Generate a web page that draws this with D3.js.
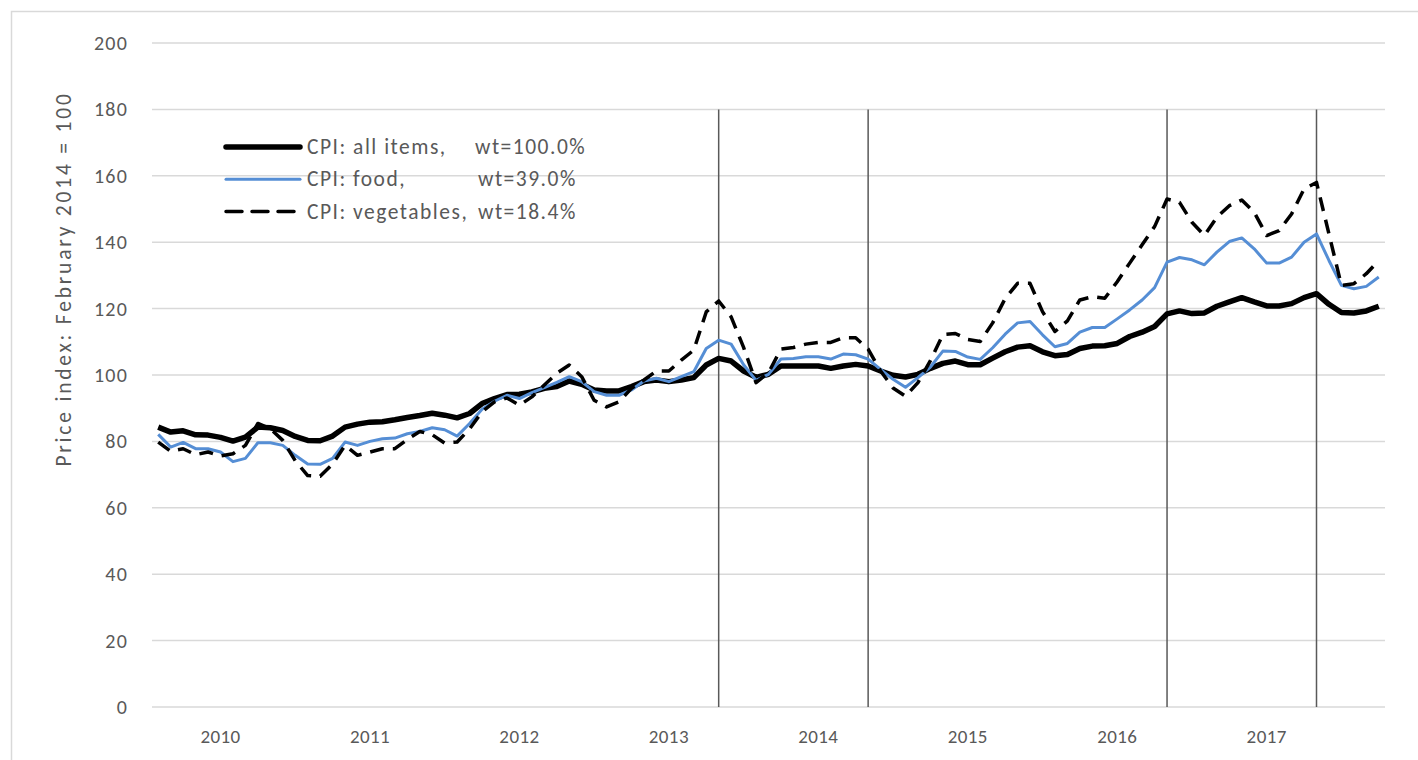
<!DOCTYPE html>
<html>
<head>
<meta charset="utf-8">
<script src="https://cdn.jsdelivr.net/npm/d3@7"></script>
<style>
  body { margin: 0; background: #fff; }
  svg { display: block; font-family: Carlito, Lato, sans-serif; }
</style>
</head>
<body>
<svg id="chart"></svg>
<script>
// monthly, Feb 2010 .. Apr 2018
const startMonth = new Date(2010, 1, 1);
const allItems = [84.3, 82.8, 83.2, 82, 81.9, 81.2, 80.1, 81.3, 84.3, 84.1, 83.3, 81.5, 80.3, 80.2, 81.6, 84.3, 85.2, 85.8, 85.9, 86.5,
    87.2, 87.8, 88.5, 87.9, 87.1, 88.4, 91.4, 92.9, 94.1, 94.2, 94.9, 96, 96.5, 98.2, 97.2, 95.5, 95.2, 95.2, 96.5, 98,
    98.5, 98, 98.5, 99.2, 103, 105, 104.2, 101.2, 99.3, 100.2, 102.7, 102.7, 102.7, 102.7, 102, 102.7, 103.2, 102.7, 101.2, 99.9,
    99.4, 100.2, 102, 103.5, 104.2, 103.1, 103.1, 105.1, 107, 108.4, 108.8, 107, 105.8, 106.2, 108, 108.7, 108.8, 109.5, 111.6, 112.9,
    114.6, 118.4, 119.3, 118.5, 118.7, 120.7, 122, 123.3, 122, 120.8, 120.8, 121.5, 123.3, 124.5, 121.3, 118.8, 118.7, 119.3, 120.7];
const food = [82.1, 78.3, 79.7, 77.8, 77.8, 76.8, 73.9, 74.9, 79.6, 79.6, 78.8, 75.8, 73.2, 73.1, 74.9, 79.8, 78.8, 80, 80.8, 81,
    82.3, 83, 84.1, 83.5, 81.6, 85.4, 89.7, 92.1, 93.9, 92.9, 94.7, 96.2, 97.8, 99.5, 98, 95, 93.9, 93.9, 95.5, 98.2,
    99, 98, 99.5, 101, 108, 110.5, 109.3, 103.1, 98.4, 100.2, 104.8, 105, 105.5, 105.5, 104.8, 106.3, 106.1, 104.8, 101.7, 98.7,
    96.3, 99.2, 102.4, 107.2, 107.1, 105.4, 104.7, 108.2, 112.3, 115.7, 116.1, 112.1, 108.5, 109.5, 112.9, 114.3, 114.3, 116.9, 119.6, 122.6,
    126.3, 134, 135.4, 134.7, 133.2, 137, 140.2, 141.3, 138, 133.7, 133.7, 135.5, 140, 142.5, 134.5, 127, 126, 126.7, 129.5];
const vegetables = [79.8, 77, 77.8, 76, 76.8, 75.6, 76.3, 78.8, 85.4, 83.8, 80.3, 74.2, 69.7, 69.5, 73.2, 78.8, 75.8, 76.8, 77.8, 77.8,
    80.6, 83, 82, 79.5, 79.8, 83.8, 88.9, 91.9, 93.1, 90.9, 93.4, 97, 100.5, 103, 99.5, 92.4, 90.4, 91.9, 96, 98.5,
    101.2, 101.2, 104.5, 107.5, 119, 122.3, 117.5, 108.3, 97.7, 100.7, 107.8, 108.3, 109.3, 109.8, 109.8, 111.2, 111.2, 107.8, 101.2, 96.1,
    93.6, 97.7, 104.3, 112.2, 112.5, 110.7, 110.1, 115.7, 123, 127.6, 127.6, 119.1, 113.1, 116.3, 122.6, 123.6, 123.1, 128.1, 133.7, 139.2,
    144.7, 153, 152, 146, 142, 147.5, 151, 152.7, 149, 142, 143.5, 148.5, 156, 158, 142.5, 127, 127.5, 130.5, 134.5];
const markerMonths = ['2013-11', '2014-11', '2016-11', '2017-11'];
const yTicks = [0, 20, 40, 60, 80, 100, 120, 140, 160, 180, 200];
const seriesNames = ['CPI: all items,', 'CPI: food,', 'CPI: vegetables,'];
const seriesWeights = ['wt=100.0%', 'wt=39.0%', 'wt=18.4%'];

const fmt = d3.timeFormat('%Y-%m');
const months = allItems.map((d, i) => fmt(d3.timeMonth.offset(startMonth, i)));

const width = 1418, height = 760;
const margin = { top: 43, right: 33, bottom: 53, left: 152 };
const textColor = '#595959';

const svg = d3.select('#chart')
    .attr('width', width)
    .attr('height', height);

svg.append('rect')
    .attr('x', 11.5).attr('y', 11.5)
    .attr('width', width).attr('height', height)
    .attr('fill', 'none')
    .attr('stroke', '#d9d9d9')
    .attr('stroke-width', 1.5);

const x = d3.scaleBand()
    .domain(months)
    .range([margin.left, width - margin.right]);

const y = d3.scaleLinear()
    .domain([0, 200])
    .range([height - margin.bottom, margin.top]);

const cx = m => x(m) + x.bandwidth() / 2;

// gridlines
svg.append('g')
    .selectAll('line')
    .data(yTicks)
    .join('line')
    .attr('x1', margin.left)
    .attr('x2', width - margin.right)
    .attr('y1', d => y(d))
    .attr('y2', d => y(d))
    .attr('stroke', '#d9d9d9')
    .attr('stroke-width', 1.5);

const yAxis = d3.axisLeft(y).tickValues(yTicks).tickSize(0).tickPadding(24);
svg.append('g')
    .attr('transform', `translate(${margin.left},0)`)
    .call(yAxis)
    .call(g => g.select('.domain').remove())
    .selectAll('text')
    .attr('fill', textColor)
    .style('font-size', '20px')
    .style('letter-spacing', '1.2px')
    .style('font-family', 'Carlito, Lato, sans-serif');

const xAxis = d3.axisBottom(x)
    .tickValues(months.filter(m => m.endsWith('-07')))
    .tickFormat(m => m.slice(0, 4))
    .tickSize(0)
    .tickPadding(23);
svg.append('g')
    .attr('transform', `translate(0,${y(0)})`)
    .call(xAxis)
    .call(g => g.select('.domain').remove())
    .selectAll('text')
    .attr('fill', textColor)
    .style('font-size', '19px')
    .style('letter-spacing', '0.4px')
    .style('font-family', 'Carlito, Lato, sans-serif');

svg.append('text')
    .attr('transform', 'translate(71,279) rotate(-90)')
    .attr('text-anchor', 'middle')
    .attr('fill', textColor)
    .style('font-size', '21.5px')
    .style('letter-spacing', '2.8px')
    .text('Price index: February 2014 = 100');

// marker lines
svg.append('g')
    .selectAll('line')
    .data(markerMonths)
    .join('line')
    .attr('x1', d => cx(d))
    .attr('x2', d => cx(d))
    .attr('y1', y(180))
    .attr('y2', y(0))
    .attr('stroke', '#595959')
    .attr('stroke-width', 1.5);

const line = d3.line()
    .x((d, i) => cx(months[i]))
    .y(d => y(d));

const styles = [
    { data: allItems, color: '#000', w: 5.5, dash: null },
    { data: food, color: '#558ed5', w: 3, dash: null },
    { data: vegetables, color: '#000', w: 3.5, dash: '14,9' }
];

styles.forEach(s => {
    svg.append('path')
        .datum(s.data)
        .attr('d', line)
        .attr('fill', 'none')
        .attr('stroke', s.color)
        .attr('stroke-width', s.w)
        .attr('stroke-linejoin', 'round')
        .attr('stroke-dasharray', s.dash);
});

// legend
const legend = svg.append('g').attr('transform', 'translate(226,147)');
styles.forEach((s, i) => {
    const row = legend.append('g').attr('transform', `translate(0,${i * 32.3})`);
    row.append('line')
        .attr('x1', 0).attr('x2', 74)
        .attr('stroke', s.color)
        .attr('stroke-width', s.w)
        .attr('stroke-linecap', 'round')
        .attr('stroke-dasharray', s.dash ? '16,10' : null);
    row.append('text')
        .attr('x', 81).attr('y', 7)
        .attr('fill', textColor)
        .style('font-size', '21.5px')
        .style('letter-spacing', '1.5px')
        .text(seriesNames[i]);
    row.append('text')
        .attr('x', i === 0 ? 249 : 252).attr('y', 7)
        .attr('fill', textColor)
        .style('font-size', '21.5px')
        .style('letter-spacing', '1.5px')
        .text(seriesWeights[i]);
});
</script>
</body>
</html>
